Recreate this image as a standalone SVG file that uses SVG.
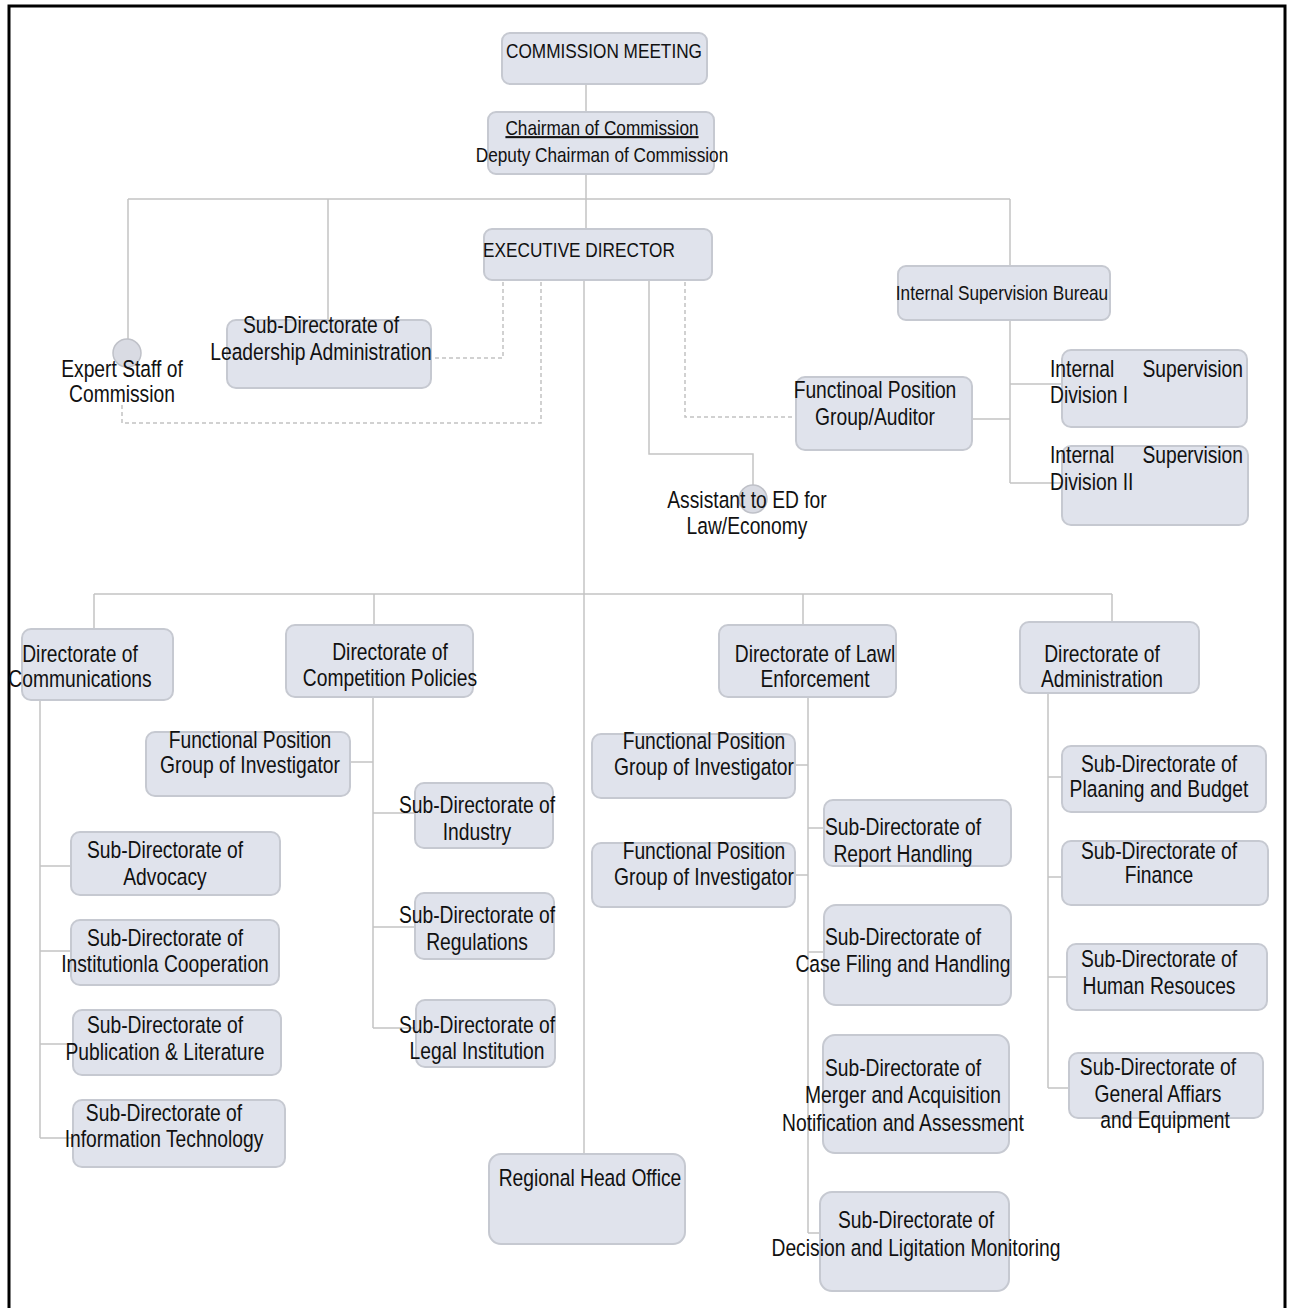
<svg xmlns="http://www.w3.org/2000/svg" width="1289" height="1308" viewBox="0 0 1289 1308">
  <style>
    .box { fill: #e0e3ec; stroke: #c6c9d1; stroke-width: 2; }
    .dot { fill: #d9dbe3; stroke: #bfc1c8; stroke-width: 1.5; }
    .t { font-family: "Liberation Sans Narrow", "Arial Narrow", "Liberation Sans", Arial, sans-serif; font-size: 23.5px; fill: #111; text-anchor: middle; }
    .s { font-size: 21px; }
    .st { text-anchor: start; }
    .en { text-anchor: end; }
    .ln { fill: none; stroke: #c4c4c4; stroke-width: 1.5; }
    .dash { fill: none; stroke: #c2c2c2; stroke-width: 1.5; stroke-dasharray: 4 3; }
    .frame { fill: none; stroke: #000; stroke-width: 3; }
  </style>
  <!-- Labels use a regular sans face squeezed to 82% width (narrow cut);
       each label group scales horizontally about its own anchor x. -->
  <rect width="1289" height="1308" fill="#fff"/>
  <path class="frame" d="M9,1308 V6 H1285 V1308"/>

  <g id="connectors">
    <path class="ln" d="M586,84 V112 M586,174 V229"/>
    <path class="ln" d="M128,199 H1010 M128,199 V339 M328,199 V320 M1010,199 V266"/>
    <path class="ln" d="M1010,320 V483 M1010,384 H1062 M1010,483 H1062 M972,419 H1010"/>
    <path class="ln" d="M649,280 V454 H753 V485"/>
    <path class="ln" d="M584,280 V1154"/>
    <path class="ln" d="M94,594 H1112 M94,594 V629 M374,594 V625 M803,594 V625 M1112,594 V622"/>
    <path class="ln" d="M40,700 V1138 M40,866 H71 M40,951 H71 M40,1044 H73 M40,1138 H73"/>
    <path class="ln" d="M373,697 V1028 M350,762 H373 M373,813 H415 M373,927 H415 M373,1028 H416"/>
    <path class="ln" d="M808,697 V1233 M795,765 H808 M795,875 H808 M808,828 H824 M808,952 H824 M808,1233 H820"/>
    <path class="ln" d="M1048,693 V1088 M1048,777 H1062 M1048,877 H1062 M1048,977 H1067 M1048,1088 H1069"/>
    <path class="dash" d="M503,282 V358 H431"/>
    <path class="dash" d="M541,282 V423 H122 V404"/>
    <path class="dash" d="M685,282 V417 H796"/>
  </g>

  <g id="commission-meeting">
    <rect class="box" x="502" y="33" width="205" height="51" rx="8"/>
    <g transform="matrix(0.82 0 0 1 108.72 0)">
      <text class="t s" x="604" y="58">COMMISSION MEETING</text>
    </g>
  </g>
  <g id="chairman">
    <rect class="box" x="488" y="112" width="226" height="62" rx="8"/>
    <g transform="matrix(0.82 0 0 1 108.36 0)">
      <text class="t s" x="602" y="135" text-decoration="underline">Chairman of Commission</text>
      <text class="t s" x="602" y="162">Deputy Chairman of Commission</text>
    </g>
  </g>
  <g id="executive-director">
    <rect class="box" x="484" y="229" width="228" height="51" rx="8"/>
    <g transform="matrix(0.82 0 0 1 104.22 0)">
      <text class="t s" x="579" y="257">EXECUTIVE DIRECTOR</text>
    </g>
  </g>
  <g id="internal-supervision-bureau">
    <rect class="box" x="898" y="266" width="212" height="54" rx="8"/>
    <g transform="matrix(0.82 0 0 1 180.36 0)">
      <text class="t s" x="1002" y="300">Internal Supervision Bureau</text>
    </g>
  </g>
  <g id="expert-staff">
    <circle class="dot" cx="127" cy="353" r="14"/>
    <g transform="matrix(0.82 0 0 1 21.96 0)">
      <text class="t" x="122" y="377">Expert Staff of</text>
      <text class="t" x="122" y="402">Commission</text>
    </g>
  </g>
  <g id="leadership-administration">
    <rect class="box" x="227" y="320" width="204" height="68" rx="9"/>
    <g transform="matrix(0.82 0 0 1 57.78 0)">
      <text class="t" x="321" y="333">Sub-Directorate of</text>
      <text class="t" x="321" y="360">Leadership Administration</text>
    </g>
  </g>
  <g id="auditor-group">
    <rect class="box" x="796" y="377" width="176" height="73" rx="9"/>
    <g transform="matrix(0.82 0 0 1 157.5 0)">
      <text class="t" x="875" y="398">Functinoal Position</text>
      <text class="t" x="875" y="425">Group/Auditor</text>
    </g>
  </g>
  <g id="supervision-division-1">
    <rect class="box" x="1062" y="350" width="185" height="77" rx="9"/>
    <g transform="matrix(0.82 0 0 1 189 0)">
      <text class="t st" x="1050" y="377">Internal</text>
      <text class="t st" x="1050" y="403">Division I</text>
    </g>
    <g transform="matrix(0.82 0 0 1 223.74 0)">
      <text class="t en" x="1243" y="377">Supervision</text>
    </g>
  </g>
  <g id="supervision-division-2">
    <rect class="box" x="1062" y="446" width="186" height="79" rx="9"/>
    <g transform="matrix(0.82 0 0 1 189 0)">
      <text class="t st" x="1050" y="463">Internal</text>
      <text class="t st" x="1050" y="490">Division II</text>
    </g>
    <g transform="matrix(0.82 0 0 1 223.74 0)">
      <text class="t en" x="1243" y="463">Supervision</text>
    </g>
  </g>
  <g id="assistant-ed">
    <circle class="dot" cx="753" cy="499" r="14"/>
    <g transform="matrix(0.82 0 0 1 134.46 0)">
      <text class="t" x="747" y="508">Assistant to ED for</text>
      <text class="t" x="747" y="534">Law/Economy</text>
    </g>
  </g>

  <g id="dir-communications">
    <rect class="box" x="22" y="629" width="151" height="71" rx="9"/>
    <g transform="matrix(0.82 0 0 1 14.4 0)">
      <text class="t" x="80" y="662">Directorate of</text>
      <text class="t" x="80" y="687">Communications</text>
    </g>
  </g>
  <g id="dir-competition">
    <rect class="box" x="286" y="625" width="187" height="72" rx="9"/>
    <g transform="matrix(0.82 0 0 1 70.2 0)">
      <text class="t" x="390" y="660">Directorate of</text>
      <text class="t" x="390" y="686">Competition Policies</text>
    </g>
  </g>
  <g id="dir-law-enforcement">
    <rect class="box" x="719" y="625" width="177" height="72" rx="9"/>
    <g transform="matrix(0.82 0 0 1 146.7 0)">
      <text class="t" x="815" y="662">Directorate of Lawl</text>
      <text class="t" x="815" y="687">Enforcement</text>
    </g>
  </g>
  <g id="dir-administration">
    <rect class="box" x="1020" y="622" width="179" height="71" rx="9"/>
    <g transform="matrix(0.82 0 0 1 198.36 0)">
      <text class="t" x="1102" y="662">Directorate of</text>
      <text class="t" x="1102" y="687">Administration</text>
    </g>
  </g>

  <g id="investigator-competition">
    <rect class="box" x="146" y="732" width="204" height="64" rx="9"/>
    <g transform="matrix(0.82 0 0 1 45 0)">
      <text class="t" x="250" y="748">Functional Position</text>
      <text class="t" x="250" y="773">Group of Investigator</text>
    </g>
  </g>
  <g id="sub-industry">
    <rect class="box" x="415" y="783" width="138" height="65" rx="9"/>
    <g transform="matrix(0.82 0 0 1 85.86 0)">
      <text class="t" x="477" y="813">Sub-Directorate of</text>
      <text class="t" x="477" y="840">Industry</text>
    </g>
  </g>
  <g id="sub-regulations">
    <rect class="box" x="415" y="893" width="139" height="66" rx="9"/>
    <g transform="matrix(0.82 0 0 1 85.86 0)">
      <text class="t" x="477" y="923">Sub-Directorate of</text>
      <text class="t" x="477" y="950">Regulations</text>
    </g>
  </g>
  <g id="sub-legal-institution">
    <rect class="box" x="416" y="1000" width="139" height="67" rx="9"/>
    <g transform="matrix(0.82 0 0 1 85.86 0)">
      <text class="t" x="477" y="1033">Sub-Directorate of</text>
      <text class="t" x="477" y="1059">Legal Institution</text>
    </g>
  </g>

  <g id="sub-advocacy">
    <rect class="box" x="71" y="832" width="209" height="63" rx="9"/>
    <g transform="matrix(0.82 0 0 1 29.7 0)">
      <text class="t" x="165" y="858">Sub-Directorate of</text>
      <text class="t" x="165" y="885">Advocacy</text>
    </g>
  </g>
  <g id="sub-cooperation">
    <rect class="box" x="71" y="920" width="208" height="65" rx="9"/>
    <g transform="matrix(0.82 0 0 1 29.7 0)">
      <text class="t" x="165" y="946">Sub-Directorate of</text>
      <text class="t" x="165" y="972">Institutionla Cooperation</text>
    </g>
  </g>
  <g id="sub-publication">
    <rect class="box" x="73" y="1010" width="208" height="65" rx="9"/>
    <g transform="matrix(0.82 0 0 1 29.7 0)">
      <text class="t" x="165" y="1033">Sub-Directorate of</text>
      <text class="t" x="165" y="1060">Publication &amp; Literature</text>
    </g>
  </g>
  <g id="sub-information-technology">
    <rect class="box" x="73" y="1100" width="212" height="67" rx="9"/>
    <g transform="matrix(0.82 0 0 1 29.52 0)">
      <text class="t" x="164" y="1121">Sub-Directorate of</text>
      <text class="t" x="164" y="1147">Information Technology</text>
    </g>
  </g>

  <g id="regional-head-office">
    <rect class="box" x="489" y="1154" width="196" height="90" rx="12"/>
    <g transform="matrix(0.82 0 0 1 106.2 0)">
      <text class="t" x="590" y="1186">Regional Head Office</text>
    </g>
  </g>

  <g id="investigator-law-1">
    <rect class="box" x="592" y="734" width="203" height="64" rx="9"/>
    <g transform="matrix(0.82 0 0 1 126.72 0)">
      <text class="t" x="704" y="749">Functional Position</text>
      <text class="t" x="704" y="775">Group of Investigator</text>
    </g>
  </g>
  <g id="investigator-law-2">
    <rect class="box" x="592" y="843" width="203" height="64" rx="9"/>
    <g transform="matrix(0.82 0 0 1 126.72 0)">
      <text class="t" x="704" y="859">Functional Position</text>
      <text class="t" x="704" y="885">Group of Investigator</text>
    </g>
  </g>
  <g id="sub-report-handling">
    <rect class="box" x="824" y="800" width="187" height="66" rx="9"/>
    <g transform="matrix(0.82 0 0 1 162.54 0)">
      <text class="t" x="903" y="835">Sub-Directorate of</text>
      <text class="t" x="903" y="862">Report Handling</text>
    </g>
  </g>
  <g id="sub-case-filing">
    <rect class="box" x="824" y="905" width="187" height="100" rx="12"/>
    <g transform="matrix(0.82 0 0 1 162.54 0)">
      <text class="t" x="903" y="945">Sub-Directorate of</text>
      <text class="t" x="903" y="972">Case Filing and Handling</text>
    </g>
  </g>
  <g id="sub-merger">
    <rect class="box" x="823" y="1035" width="186" height="118" rx="12"/>
    <g transform="matrix(0.82 0 0 1 162.54 0)">
      <text class="t" x="903" y="1076">Sub-Directorate of</text>
      <text class="t" x="903" y="1103">Merger and Acquisition</text>
      <text class="t" x="903" y="1131">Notification and Assessment</text>
    </g>
  </g>
  <g id="sub-decision">
    <rect class="box" x="820" y="1192" width="189" height="99" rx="12"/>
    <g transform="matrix(0.82 0 0 1 164.88 0)">
      <text class="t" x="916" y="1228">Sub-Directorate of</text>
      <text class="t" x="916" y="1256">Decision and Ligitation Monitoring</text>
    </g>
  </g>

  <g id="sub-planning-budget">
    <rect class="box" x="1062" y="746" width="204" height="66" rx="9"/>
    <g transform="matrix(0.82 0 0 1 208.62 0)">
      <text class="t" x="1159" y="772">Sub-Directorate of</text>
      <text class="t" x="1159" y="797">Plaaning and Budget</text>
    </g>
  </g>
  <g id="sub-finance">
    <rect class="box" x="1062" y="841" width="206" height="64" rx="9"/>
    <g transform="matrix(0.82 0 0 1 208.62 0)">
      <text class="t" x="1159" y="859">Sub-Directorate of</text>
      <text class="t" x="1159" y="883">Finance</text>
    </g>
  </g>
  <g id="sub-human-resources">
    <rect class="box" x="1067" y="944" width="200" height="66" rx="9"/>
    <g transform="matrix(0.82 0 0 1 208.62 0)">
      <text class="t" x="1159" y="967">Sub-Directorate of</text>
      <text class="t" x="1159" y="994">Human Resouces</text>
    </g>
  </g>
  <g id="sub-general-affairs">
    <rect class="box" x="1069" y="1053" width="194" height="65" rx="9"/>
    <g transform="matrix(0.82 0 0 1 208.44 0)">
      <text class="t" x="1158" y="1075">Sub-Directorate of</text>
      <text class="t" x="1158" y="1102">General Affiars</text>
    </g>
    <g transform="matrix(0.82 0 0 1 209.7 0)">
      <text class="t" x="1165" y="1128">and Equipment</text>
    </g>
  </g>
</svg>
